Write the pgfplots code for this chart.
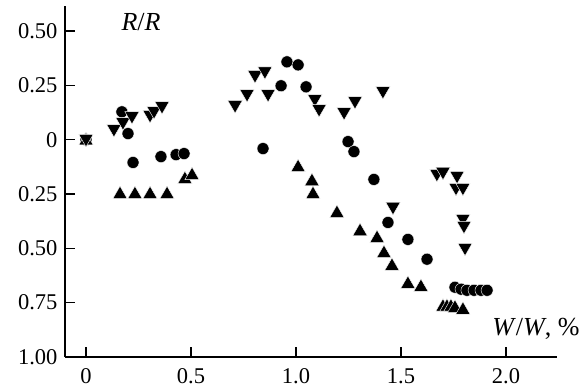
\documentclass[border=0pt]{standalone}
\usepackage{pgfplots}
\pgfplotsset{compat=1.18}
\usepackage{fontspec}
\setmainfont{Liberation Serif}
\begin{document}
\begin{tikzpicture}[font=\fontsize{22.5}{26}\selectfont]
\begin{axis}[
  scale only axis,
  width=492pt, height=351pt,
  xmin=-0.1, xmax=2.243,
  ymin=-1.0, ymax=0.615,
  axis lines*=left,
  axis line style={line width=1.6pt},
  tick style={line width=1.6pt, black},
  tick align=inside,
  major tick length=10pt,
  xtick={0,0.5,1.0,1.5,2.0},
  xticklabels={0,0.5,1.0,1.5,2.0},
  ytick={-1,-0.75,-0.5,-0.25,0,0.25,0.5},
  yticklabels={1.00,0.75,0.50,0.25,0,0.25,0.50},
  xticklabel style={yshift=-8pt},
  yticklabel style={xshift=-4pt},
  /pgf/number format/assume math mode=true,
  clip=false,
]
% circles
\addplot[only marks, mark=*, mark size=6pt, mark options={fill=black, draw=white, line width=0.4pt}] coordinates {
(0,0) (0.171,0.128) (0.2,0.028) (0.224,-0.105) (0.357,-0.078) (0.429,-0.069) (0.467,-0.064)
(0.843,-0.041) (0.929,0.248) (0.957,0.358) (1.01,0.344) (1.048,0.243)
(1.248,-0.009) (1.276,-0.055) (1.371,-0.183) (1.438,-0.381) (1.533,-0.459) (1.624,-0.55)
(1.757,-0.679) (1.786,-0.688) (1.814,-0.693) (1.848,-0.693) (1.881,-0.693) (1.91,-0.693)
};
% up triangles
\addplot[only marks, mark=triangle*, mark size=8.3pt, mark options={fill=black, draw=white, line width=0.4pt}] coordinates {
(0,-0.005) (0.162,-0.252) (0.233,-0.252) (0.305,-0.252) (0.386,-0.252) (0.471,-0.183) (0.505,-0.165)
(1.01,-0.128) (1.076,-0.192) (1.081,-0.252) (1.195,-0.339) (1.305,-0.422) (1.386,-0.454)
(1.419,-0.523) (1.457,-0.582) (1.533,-0.665) (1.595,-0.679)
(1.7,-0.77) (1.719,-0.77) (1.738,-0.77) (1.757,-0.775) (1.795,-0.784)
};
% down triangles
\addplot[only marks, mark=triangle*, mark size=8.3pt, mark options={fill=black, draw=white, line width=0.4pt, rotate=180}] coordinates {
(0,0.005) (0.133,0.05) (0.176,0.082) (0.219,0.11) (0.305,0.115) (0.324,0.133) (0.362,0.156)
(0.71,0.16) (0.767,0.211) (0.805,0.298) (0.852,0.316) (0.867,0.211)
(1.09,0.188) (1.11,0.142) (1.229,0.128) (1.281,0.179) (1.414,0.225)
(1.462,-0.308) (1.671,-0.156) (1.7,-0.147) (1.767,-0.165) (1.762,-0.22) (1.795,-0.22)
(1.795,-0.363) (1.8,-0.395) (1.805,-0.496)
};
\node[font=\fontsize{26}{30}\selectfont] at (axis cs:0.262,0.54) {\textit{R}/\textit{R}};
\node[anchor=east, font=\fontsize{26}{30}\selectfont] at (axis cs:2.367,-0.87) {\textit{W}/\textit{W}, \%};
\end{axis}
\path (current axis.south west) ++(-65pt,-34pt) coordinate (bl);
\path (current axis.north east) ++(26pt,6pt) coordinate (tr);
\path (bl) rectangle (tr);
\end{tikzpicture}
\end{document}
